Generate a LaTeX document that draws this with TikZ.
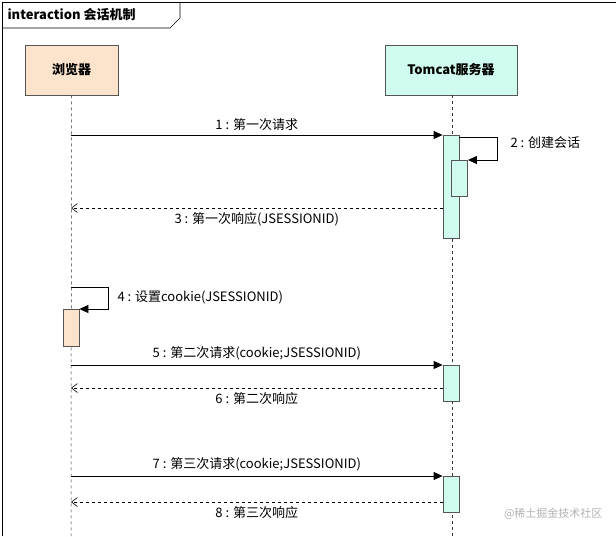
\documentclass[tikz,border=0pt]{standalone}
\usepackage{fontspec}
\setmainfont{Noto Sans CJK SC}
\usetikzlibrary{arrows.meta}
\definecolor{peach}{HTML}{FCE3CC}
\definecolor{mint}{HTML}{CFFCEE}
\definecolor{edge}{HTML}{555555}
\begin{document}
\begin{tikzpicture}[x=1pt,y=-1pt,
  lbl/.style={font=\fontsize{13}{15}\selectfont},
  actor/.style={draw=edge,line width=0.8pt,minimum height=50pt,font=\fontsize{13}{15}\selectfont\bfseries},
  act/.style={draw=edge,line width=0.8pt,minimum width=16pt,inner sep=0pt,anchor=north},
  life/.style={dashed,line width=0.5pt,draw=black!80},
  msg/.style={line width=0.8pt,-{Triangle[length=9pt,width=8pt]}},
  ret/.style={dashed,line width=0.6pt,-{Straight Barb[length=6pt,width=9pt]}}]
\useasboundingbox (0,0) rectangle (616,536);
\draw[line width=0.6pt] (2,536) -- (2,2) -- (616,2);
\node[lbl,anchor=west,font=\fontsize{13}{15}\selectfont\bfseries] (title) at (4,15) {interaction 会话机制};
\draw[line width=0.6pt] (2,28) -- (170,28) -- (180,18) -- (180,2);
% actors
\node[actor,fill=peach,minimum width=93pt] (b) at (71.5,70) {浏览器};
\node[actor,fill=mint,minimum width=132pt] (t) at (451,70) {Tomcat服务器};
\coordinate (bend) at (71,536);
\coordinate (tend) at (452,536);
\draw[life] (b.south) -- (bend);
\draw[life] (t.south -| tend) -- (tend);
% activations
\node[act,fill=mint,minimum height=103pt] (a1) at (451,135) {};
\node[act,fill=mint,minimum height=36pt] (a2) at (459.5,160) {};
\node[act,fill=peach,minimum height=37pt] (a4) at (71,309) {};
\node[act,fill=mint,minimum height=36pt] (a5) at (451,365) {};
\node[act,fill=mint,minimum height=36pt] (a7) at (451,476) {};
% 1
\coordinate (s1) at (71,135);
\draw[msg] (s1) -- (a1.north west) node[lbl,midway,above=1pt] (l1) {1 : 第一次请求};
% 2
\coordinate (c2a) at (497,137);
\coordinate (c2b) at (497,160);
\draw[msg] (a1.north east |- c2a) -- (c2a) -- (c2b) -- (a2.north east);
\node[lbl,anchor=west] (l2) at (507,143) {2 : 创建会话};
% 3
\coordinate (e3) at (71,208);
\draw[ret] (a1.west |- e3) -- (e3) node[lbl,midway,below=1pt] (l3) {3 : 第一次响应(JSESSIONID)};
% 4
\coordinate (s4) at (71,287);
\coordinate (c4a) at (108,287);
\coordinate (c4b) at (108,309);
\draw[msg] (s4) -- (c4a) -- (c4b) -- (a4.north east);
\node[lbl,anchor=west] (l4) at (114,297) {4 : 设置cookie(JSESSIONID)};
% 5
\coordinate (s5) at (71,365);
\draw[msg] (s5) -- (a5.north west) node[lbl,midway,above=1pt] (l5) {5 : 第二次请求(cookie;JSESSIONID)};
% 6
\coordinate (e6) at (71,388);
\draw[ret] (a5.west |- e6) -- (e6) node[lbl,midway,below=1pt] (l6) {6 : 第二次响应};
% 7
\coordinate (s7) at (71,476);
\draw[msg] (s7) -- (a7.north west) node[lbl,midway,above=1pt] (l7) {7 : 第三次请求(cookie;JSESSIONID)};
% 8
\coordinate (e8) at (71,502);
\draw[ret] (a7.west |- e8) -- (e8) node[lbl,midway,below=1pt] (l8) {8 : 第三次响应};
\node[anchor=east,text=black!30,font=\fontsize{11}{13}\selectfont] (wm) at (606,514) {@稀土掘金技术社区};
\end{tikzpicture}
\end{document}
